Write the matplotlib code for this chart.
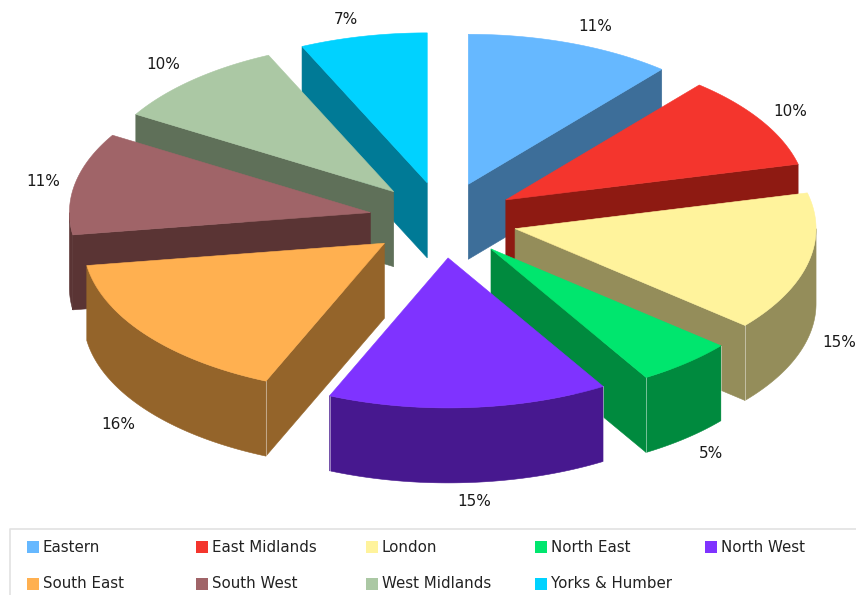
import numpy as np
import matplotlib
matplotlib.use("Agg")
import matplotlib.pyplot as plt
from matplotlib.patches import Rectangle

regions = ["Eastern", "East Midlands", "London", "North East", "North West",
           "South East", "South West", "West Midlands", "Yorks & Humber"]
shares = [11.11, 10.06, 15.0, 5.22, 15.06, 16.19, 11.0, 9.55, 6.83]

top_colors = ["#66B8FF", "#F4352D", "#FFF39C", "#00E66E", "#7F33FF",
              "#FFB050", "#A06468", "#ABC8A4", "#00D2FF"]
side_colors = ["#3D6E99", "#8E1A12", "#948D5A", "#008A3E", "#47188F",
               "#94642A", "#5A3434", "#5F7059", "#007A96"]

# pie geometry in pixels
cx, cy = 443, 220
rx, ry = 301, 150
depth = 75
explode_x, explode_y = 74, 38

# painter's order, back slices first
draw_order = [8, 0, 7, 1, 6, 2, 5, 3, 4]

# small shifts of the percent labels
label_shift = [(14, 2), (5, 1), (4, 0), (7, 0), (4, -1),
               (-6, 2), (-4, 2), (-11, 0), (-11, 3)]

fig = plt.figure(figsize=(8.56, 5.95), dpi=100)
ax = fig.add_axes([0, 0, 1, 1])
ax.set_xlim(0, 856)
ax.set_ylim(595, 0)
ax.axis("off")

ends = np.cumsum(shares) / sum(shares) * 360
starts = np.r_[0, ends[:-1]]


def rim_point(ang, x0, y0):
    t = np.radians(ang)
    return x0 + rx * np.sin(t), y0 - ry * np.cos(t)


def fill(xs, ys, color, z):
    ax.fill(xs, ys, facecolor=color, edgecolor=color, linewidth=0.4, zorder=z)


for z, i in enumerate(draw_order):
    a, b = starts[i], ends[i]
    mid = np.radians((a + b) / 2)
    x0 = cx + explode_x * np.sin(mid)
    y0 = cy - explode_y * np.cos(mid)

    # flat side walls, only the ones turned towards the viewer
    for ang, show in [(b, b < 180), (a, a > 180)]:
        if show:
            x1, y1 = rim_point(ang, x0, y0)
            fill([x0, x1, x1, x0], [y0, y1, y1 + depth, y0 + depth], side_colors[i], z)

    # curved outer wall on the front half
    lo, hi = max(a, 90), min(b, 270)
    if lo < hi:
        t = np.linspace(lo, hi, 80)
        xs, ys = rim_point(t, x0, y0)
        fill(np.r_[xs, xs[::-1]], np.r_[ys, ys[::-1] + depth], side_colors[i], z)
        # pale seam where the curved wall meets a flat wall
        for ang in (lo, hi):
            if 90 < ang < 240:
                x1, y1 = rim_point(ang, x0, y0)
                ax.plot([x1, x1], [y1, y1 + depth], color="white", alpha=0.45, lw=0.7, zorder=z)

    # top face
    t = np.linspace(a, b, 80)
    xs, ys = rim_point(t, x0, y0)
    fill(np.r_[x0, xs], np.r_[y0, ys], top_colors[i], z)

    # percent label outside the rim
    lx, ly = rim_point((a + b) / 2, x0, y0)
    if 90 < (a + b) / 2 < 270:
        ly += depth
    lx += 28 * np.sin(mid) + label_shift[i][0]
    ly -= 20 * np.cos(mid) - label_shift[i][1]
    ax.text(lx, ly, f"{shares[i]:.0f}%", ha="center", va="center", fontsize=11,
            color="#1a1a1a", zorder=50)

# legend box, open on the right and bottom
ax.plot([10, 10, 856], [595, 528.5, 528.5], color="#e2e2e2", lw=1.2, zorder=60)
for k, name in enumerate(regions):
    col = k % 5
    row = k // 5
    x = 27 + col * 169.5
    y = 547 + row * 36.5
    ax.add_patch(Rectangle((x, y - 6), 12, 12, facecolor=top_colors[k], edgecolor="none", zorder=61))
    ax.text(x + 16, y + 0.5, name, ha="left", va="center", fontsize=10.8, color="#222222", zorder=61)

fig.savefig("out.png", dpi=100)
